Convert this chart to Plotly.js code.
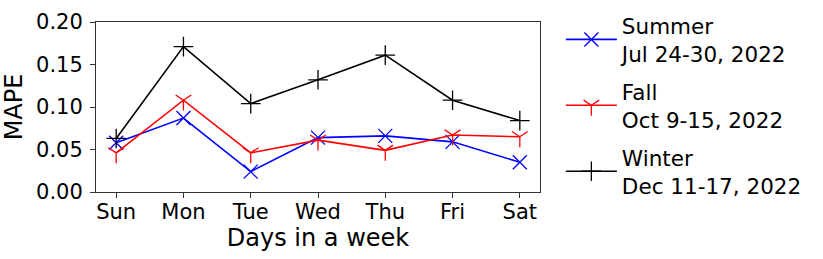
<!DOCTYPE html>
<html>
<head>
<meta charset="utf-8">
<script src="https://cdn.plot.ly/plotly-3.0.1.min.js"></script>
<style>html,body{margin:0;padding:0;background:#fff;}#chart{width:823px;height:259px;}</style>
</head>
<body>
<div id="chart"></div>
<script>
const days = ["Sun", "Mon", "Tue", "Wed", "Thu", "Fri", "Sat"];
const summer = [0.058, 0.087, 0.024, 0.064, 0.066, 0.059, 0.035];
const fall = [0.046, 0.108, 0.046, 0.061, 0.049, 0.067, 0.065];
const winter = [0.063, 0.171, 0.104, 0.132, 0.161, 0.108, 0.084];
const seriesNames = ["Summer<br>Jul 24-30, 2022", "Fall<br>Oct 9-15, 2022", "Winter<br>Dec 11-17, 2022"];
const yTicks = [0, 0.05, 0.10, 0.15, 0.20];
const yTickText = ["0.00", "0.05", "0.10", "0.15", "0.20"];

const xIdx = days.map((d, i) => i);
const font = "DejaVu Sans, sans-serif";

function trace(vals, name, color, symbol, size, grp) {
  return {
    x: xIdx, y: vals, name: name, type: "scatter", mode: "lines+markers",
    legendgroup: grp,
    line: {color: color, width: 1.6},
    marker: {symbol: symbol, size: size, color: color, line: {color: color, width: 1.3}}
  };
}

const data = [
  trace(summer, seriesNames[0], "#0000ff", "x-thin-open", 14, "a"),
  trace(fall, seriesNames[1], "#ff0000", "y-down-open", 13, "b"),
  trace(winter, seriesNames[2], "#000000", "cross-thin-open", 14, "c")
];

const layout = {
  width: 823, height: 259,
  margin: {l: 96, r: 283, t: 22, b: 67, autoexpand: false},
  paper_bgcolor: "#fff", plot_bgcolor: "#fff",
  font: {family: font, size: 21, color: "#000"},
  showlegend: true,
  legend: {x: 1.047, y: 0.509, xanchor: "left", yanchor: "middle", bgcolor: "rgba(0,0,0,0)",
           borderwidth: 0, font: {family: font, size: 21.5}, tracegroupgap: 7, valign: "middle",
           itemwidth: 51, maxheight: 259},
  xaxis: {
    range: [-0.3, 6.3], tickmode: "array", tickvals: xIdx, ticktext: days,
    showgrid: false, zeroline: false, showline: true, mirror: true,
    linecolor: "#333", linewidth: 1, ticks: "outside", ticklen: 4.5, tickcolor: "#333",
    tickfont: {family: font, size: 21}, ticklabelstandoff: -4,
    title: {text: "Days in a week", font: {family: font, size: 24}, standoff: 2}
  },
  yaxis: {
    range: [0, 0.2], tickmode: "array", tickvals: yTicks, ticktext: yTickText,
    showgrid: false, zeroline: false, showline: true, mirror: true,
    linecolor: "#333", linewidth: 1, ticks: "outside", ticklen: 5, tickcolor: "#333",
    tickfont: {family: font, size: 21}, ticklabelstandoff: 3,
    title: {text: "MAPE", font: {family: font, size: 24}, standoff: 8}
  }
};

Plotly.newPlot("chart", data, layout, {staticPlot: true});
</script>
</body>
</html>
